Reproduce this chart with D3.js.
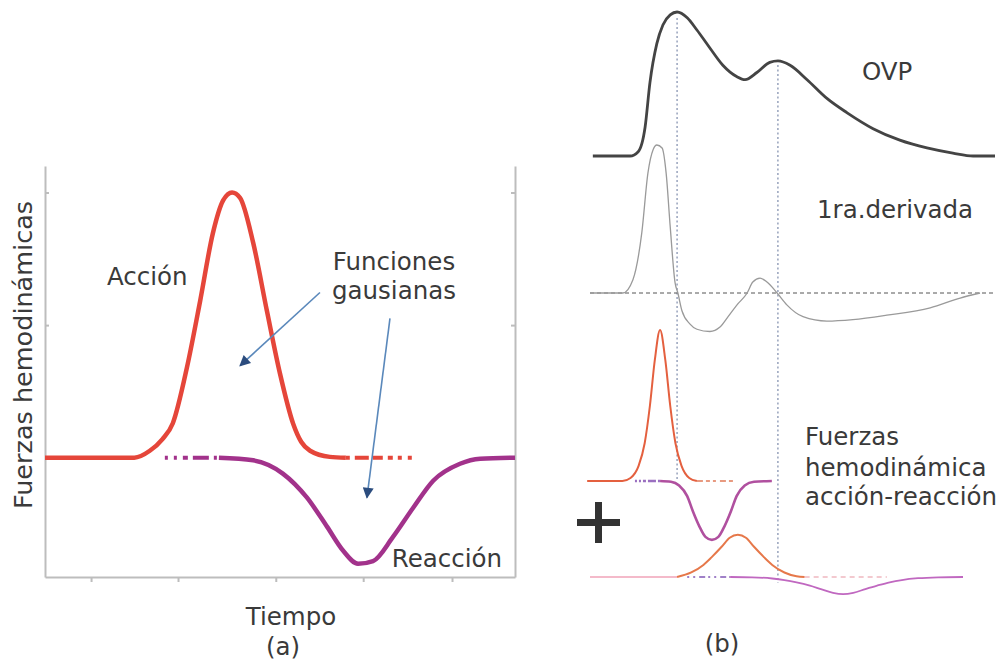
<!DOCTYPE html>
<html>
<head>
<meta charset="utf-8">
<script src="https://cdn.jsdelivr.net/npm/d3@7"></script>
<style>
  body { margin: 0; background: #fff; }
  text { font-family: "DejaVu Sans", sans-serif; fill: #3a3a3a; font-size: 24.5px; }
</style>
</head>
<body>
<div id="chart"></div>
<script>
"use strict";

// ---- panel (a): action / reaction gaussians (time 0..100, force) ----
var accionSolid = [[0,0],[19,0],[22.3,0.026],[25,0.07],[27.2,0.13],[30.2,0.34],[33,0.59],[35.7,0.845],[37.9,0.97],[39.8,1],[41.5,0.98],[44.3,0.81],[47.2,0.555],[50,0.317],[52.8,0.128],[54.5,0.06],[56.4,0.026],[60.6,0.003],[64,0]];
var accionTail = [[64,0],[78.3,0]];
var reaccionHead = [[25.5,0],[37,0]];
var reaccionSolid = [[37,0],[44.3,-0.01],[50.6,-0.06],[55.7,-0.15],[60,-0.26],[63.4,-0.35],[66.6,-0.4],[69.8,-0.39],[74,-0.3],[78.3,-0.19],[82.6,-0.087],[88.3,-0.023],[92.6,-0.004],[100,0]];
var xTicksA = [9.8, 28.3, 49.1, 67.7, 86.6];
var yTicksA = [0, 0.5, 1];
// arrows: [from, to] in data units
var arrowsA = [[[58.5,0.623],[41.5,0.347]], [[73.4,0.525],[68.5,-0.151]]];

// ---- panel (b): pulse wave, derivative and decomposed forces ----
var ovp = [[0.7,0],[9.9,0],[11.9,0.03],[13.6,0.2],[14.8,0.51],[16.5,0.78],[18,0.91],[19.8,0.98],[21.5,1],[24,0.96],[26.4,0.875],[29.6,0.75],[32.8,0.63],[36.3,0.55],[38.3,0.53],[41.2,0.58],[44.4,0.65],[46.4,0.66],[49.4,0.63],[53.6,0.53],[58.5,0.4],[63.5,0.3],[69.9,0.19],[76.5,0.11],[83.2,0.056],[89.6,0.02],[94.6,0],[100,0]];
var derivada = [[0,0],[8.1,0],[10.6,0.09],[12.8,0.41],[14.3,0.81],[15.6,0.97],[16.5,1],[17.8,0.98],[18.8,0.81],[19.8,0.45],[21,0.07],[21.7,0],[22.7,-0.12],[24.7,-0.21],[26.4,-0.245],[29.6,-0.26],[32.1,-0.23],[34.1,-0.16],[36.3,-0.08],[38.8,0],[40.2,0.074],[42,0.1],[43.7,0.074],[46.2,0],[48.6,-0.08],[52.6,-0.16],[58.5,-0.19],[64.9,-0.18],[73.3,-0.15],[84,-0.1],[91.4,-0.034],[96.3,0]];
var marcas = [21.5, 46.4];
var accion1 = [[-0.7,0],[8,0],[10,0.02],[12,0.1],[13.5,0.25],[14.8,0.5],[16,0.8],[17.3,1],[18.6,0.8],[19.8,0.5],[21.1,0.25],[22.6,0.1],[24.5,0.02],[26.4,0]];
var accion1Tail = [[26.4,0],[35.3,0]];
var reaccion1Head = [[11.1,0],[17.3,0]];
var reaccion1 = [[17.3,0],[20,-0.005],[22,-0.03],[24,-0.1],[25.4,-0.2],[27,-0.3],[28.5,-0.37],[30.1,-0.39],[31.7,-0.37],[33.2,-0.3],[34.8,-0.2],[36.2,-0.1],[38.2,-0.03],[40.5,-0.005],[44.9,0]];
var accion2Lead = [[0,0],[21.5,0]];
var accion2 = [[21.5,0],[25,0.03],[28,0.08],[30,0.13],[32.5,0.2],[34.5,0.26],[36.5,0.28],[38.5,0.26],[40.5,0.2],[43,0.13],[45,0.08],[48,0.03],[51,0.005],[53,0]];
var accion2Tail = [[53,0],[73.3,0]];
var reaccion2Head = [[24,0],[34.6,0]];
var reaccion2 = [[34.6,0],[40,-0.002],[45,-0.01],[48,-0.02],[51,-0.035],[54.3,-0.057],[57,-0.08],[60,-0.105],[62.5,-0.113],[65,-0.105],[68,-0.08],[70.9,-0.057],[74,-0.035],[77,-0.02],[81,-0.008],[86,-0.002],[92.1,0]];

var svg = d3.select("#chart").append("svg")
    .attr("width", 1004)
    .attr("height", 664);

svg.append("defs").append("marker")
    .attr("id", "head")
    .attr("viewBox", "0 0 10 10")
    .attr("refX", 9).attr("refY", 5)
    .attr("markerWidth", 14).attr("markerHeight", 11)
    .attr("markerUnits", "userSpaceOnUse")
    .attr("orient", "auto")
  .append("path")
    .attr("d", "M0,0 L10,5 L0,10 z")
    .attr("fill", "#2b4c7e");

// ===== panel (a) =====
var xA = d3.scaleLinear().domain([0, 100]).range([45, 515]);
var yA = d3.scaleLinear().domain([-0.45, 1.1]).range([577, 166]);

var lineA = d3.line()
    .x(function(d) { return xA(d[0]); })
    .y(function(d) { return yA(d[1]); })
    .curve(d3.curveMonotoneX);

var gA = svg.append("g");

function styleAxis(g) {
  g.selectAll("path, line").attr("stroke", "#bdbdbd").attr("stroke-width", 2);
  g.selectAll("text").remove();
}

gA.append("g")
    .attr("transform", "translate(0," + yA(-0.45) + ")")
    .call(d3.axisBottom(xA).tickValues(xTicksA).tickSize(5).tickSizeOuter(0))
    .call(styleAxis);
gA.append("g")
    .attr("transform", "translate(" + xA(0) + ",0)")
    .call(d3.axisRight(yA).tickValues(yTicksA).tickSize(4).tickSizeOuter(0))
    .call(styleAxis);
gA.append("g")
    .attr("transform", "translate(" + xA(100) + ",0)")
    .call(d3.axisLeft(yA).tickValues(yTicksA).tickSize(4).tickSizeOuter(0))
    .call(styleAxis);

var rojoA = "#e5463a", moradoA = "#a2328b";

gA.append("path").datum(reaccionHead).attr("d", lineA)
    .attr("fill", "none").attr("stroke", moradoA).attr("stroke-width", 4)
    .attr("stroke-dasharray", "3,6,3,6,5,5,16,5");
gA.append("path").datum(reaccionSolid).attr("d", lineA)
    .attr("fill", "none").attr("stroke", moradoA).attr("stroke-width", 4.5);
gA.append("path").datum(accionSolid).attr("d", lineA)
    .attr("fill", "none").attr("stroke", rojoA).attr("stroke-width", 4.5);
gA.append("path").datum(accionTail).attr("d", lineA)
    .attr("fill", "none").attr("stroke", rojoA).attr("stroke-width", 4)
    .attr("stroke-dasharray", "4,5,14,4,10,5,5,5,4,6");

arrowsA.forEach(function(a) {
  gA.append("line")
      .attr("x1", xA(a[0][0])).attr("y1", yA(a[0][1]))
      .attr("x2", xA(a[1][0])).attr("y2", yA(a[1][1]))
      .attr("stroke", "#5a88bb").attr("stroke-width", 1.6)
      .attr("marker-end", "url(#head)");
});

gA.append("text").attr("x", 107).attr("y", 285).text("Acción");
gA.append("text").attr("x", 394).attr("y", 270).attr("text-anchor", "middle").text("Funciones");
gA.append("text").attr("x", 394).attr("y", 299).attr("text-anchor", "middle").text("gausianas");
gA.append("text").attr("x", 502).attr("y", 567).attr("text-anchor", "end").text("Reacción");
gA.append("text").attr("x", 291).attr("y", 625).attr("text-anchor", "middle").text("Tiempo");
gA.append("text").attr("x", 283).attr("y", 655).attr("text-anchor", "middle").text("(a)");
gA.append("text")
    .attr("transform", "translate(32,355) rotate(-90)")
    .attr("text-anchor", "middle").style("font-size", "25.5px")
    .text("Fuerzas hemodinámicas");

// ===== panel (b) =====
var xB = d3.scaleLinear().domain([0, 100]).range([590, 995]);
var yOvp = d3.scaleLinear().domain([0, 1]).range([156, 12]);
var yDer = d3.scaleLinear().domain([0, 1]).range([293, 145]);
var yG1 = d3.scaleLinear().domain([0, 1]).range([481, 330]);
var yG2 = d3.scaleLinear().domain([0, 1]).range([577, 426]);

function lineB(ys) {
  return d3.line()
      .x(function(d) { return xB(d[0]); })
      .y(function(d) { return ys(d[1]); })
      .curve(d3.curveMonotoneX);
}

var gB = svg.append("g");

// vertical markers at the two OVP peaks
gB.append("line")
    .attr("x1", xB(marcas[0])).attr("x2", xB(marcas[0]))
    .attr("y1", yOvp(1) + 6).attr("y2", yG1(0))
    .attr("stroke", "#7d8bab").attr("stroke-width", 1.2).attr("stroke-dasharray", "2,2.5");
gB.append("line")
    .attr("x1", xB(marcas[1])).attr("x2", xB(marcas[1]))
    .attr("y1", yOvp(0.66) + 4).attr("y2", yG2(0) + 6)
    .attr("stroke", "#7d8bab").attr("stroke-width", 1.2).attr("stroke-dasharray", "2,2.5");

// zero line of derivative
gB.append("line")
    .attr("x1", xB(0)).attr("x2", xB(100))
    .attr("y1", yDer(0)).attr("y2", yDer(0))
    .attr("stroke", "#555").attr("stroke-width", 1).attr("stroke-dasharray", "4,3");

gB.append("path").datum(ovp).attr("d", lineB(yOvp))
    .attr("fill", "none").attr("stroke", "#444").attr("stroke-width", 2.8);
gB.append("path").datum(derivada).attr("d", lineB(yDer))
    .attr("fill", "none").attr("stroke", "#9a9a9a").attr("stroke-width", 1.3);

var rojoB = "#e4603f", moradoB = "#b0509f";

gB.append("path").datum(reaccion1Head).attr("d", lineB(yG1))
    .attr("fill", "none").attr("stroke", "#9a6fc0").attr("stroke-width", 2.5)
    .attr("stroke-dasharray", "2,2,2,2,3,2,8,2");
gB.append("path").datum(reaccion1).attr("d", lineB(yG1))
    .attr("fill", "none").attr("stroke", moradoB).attr("stroke-width", 2.6);
gB.append("path").datum(accion1).attr("d", lineB(yG1))
    .attr("fill", "none").attr("stroke", rojoB).attr("stroke-width", 2);
gB.append("path").datum(accion1Tail).attr("d", lineB(yG1))
    .attr("fill", "none").attr("stroke", "#e89a80").attr("stroke-width", 2)
    .attr("stroke-dasharray", "6,3,4,3,3,4");

gB.append("path").datum(accion2Lead).attr("d", lineB(yG2))
    .attr("fill", "none").attr("stroke", "#f0a3b8").attr("stroke-width", 1.6);
gB.append("path").datum(reaccion2Head).attr("d", lineB(yG2))
    .attr("fill", "none").attr("stroke", "#a080c8").attr("stroke-width", 1.8)
    .attr("stroke-dasharray", "2,4,2,4,6,3");
gB.append("path").datum(reaccion2).attr("d", lineB(yG2))
    .attr("fill", "none").attr("stroke", "#c068c0").attr("stroke-width", 1.8);
gB.append("path").datum(accion2).attr("d", lineB(yG2))
    .attr("fill", "none").attr("stroke", "#e6784a").attr("stroke-width", 2);
gB.append("path").datum(accion2Tail).attr("d", lineB(yG2))
    .attr("fill", "none").attr("stroke", "#f0b8c0").attr("stroke-width", 1.6)
    .attr("stroke-dasharray", "5,4");

// plus sign
gB.append("rect").attr("x", 577).attr("y", 519).attr("width", 43).attr("height", 7).attr("fill", "#333");
gB.append("rect").attr("x", 595).attr("y", 502).attr("width", 7).attr("height", 41).attr("fill", "#333");

gB.append("text").attr("x", 862).attr("y", 80).text("OVP");
gB.append("text").attr("x", 817).attr("y", 218).text("1ra.derivada");
gB.append("text").attr("x", 805).attr("y", 445).text("Fuerzas");
gB.append("text").attr("x", 805).attr("y", 476).text("hemodinámica");
gB.append("text").attr("x", 805).attr("y", 505).text("acción-reacción");
gB.append("text").attr("x", 722).attr("y", 652).attr("text-anchor", "middle").text("(b)");
</script>
</body>
</html>
